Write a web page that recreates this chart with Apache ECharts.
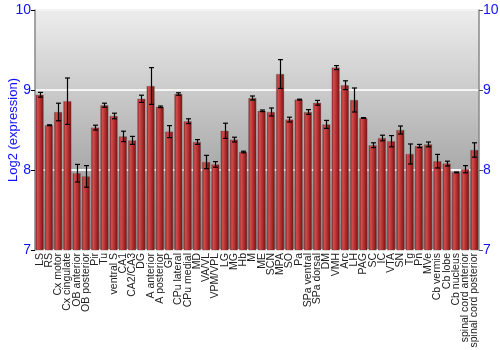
<!DOCTYPE html>
<html><head><meta charset="utf-8">
<script src="https://cdn.jsdelivr.net/npm/echarts@6/dist/echarts.min.js"></script>
<style>html,body{margin:0;padding:0;background:#fff}#c{width:500px;height:350px}</style>
</head><body><div id="c"></div>
<script>
const categories = ["LS","RS","Cx motor","Cx cingulate","OB anterior","OB posterior","Pir","Tu","ventral S","CA1","CA2/CA3","DG","A anterior","A posterior","GP","CPu lateral","CPu medial","MD","VA/VL","VPM/VPL","LG","MG","Hb","M","ME","SCN","MPA","SO","Pa","SPa ventral","SPa dorsal","DM","VMH","Arc","LH","PAG","SC","IC","VTA","SN","Tg","Pn","MVe","Cb vermis","Cb lobe","Cb nucleus","spinal cord anterior","spinal cord posterior"];
const values = [8.94,8.56,8.725,8.86,7.96,7.92,8.53,8.81,8.675,8.42,8.37,8.89,9.05,8.79,8.48,8.95,8.61,8.35,8.10,8.07,8.49,8.38,8.225,8.90,8.74,8.725,9.20,8.63,8.88,8.725,8.84,8.57,9.28,9.06,8.875,8.65,8.31,8.40,8.36,8.50,8.20,8.30,8.32,8.11,8.08,7.97,8.01,8.25];
const errors = [0.03,0.005,0.11,0.29,0.11,0.135,0.03,0.025,0.035,0.065,0.05,0.045,0.23,0.01,0.075,0.015,0.03,0.03,0.083,0.035,0.095,0.03,0.01,0.025,0.01,0.05,0.18,0.03,0.005,0.03,0.03,0.05,0.025,0.055,0.15,0.005,0.03,0.035,0.07,0.05,0.125,0.02,0.03,0.085,0.03,0.005,0.045,0.09];
const yTicks = [7,8,9,10];

const chart = echarts.init(document.getElementById('c'));
const barColor = new echarts.graphic.LinearGradient(0,0,1,0,[
  {offset:0,color:'#8a1c1c'},{offset:0.25,color:'#cf4e4e'},{offset:0.6,color:'#b22e2e'},{offset:1,color:'#6e1010'}]);
const yAxisCommon = {
  type:'value', min:yTicks[0], max:yTicks[yTicks.length-1], interval:1,
  axisLine:{show:true,lineStyle:{color:'#888',width:1.5}},
  axisTick:{show:true,length:4,lineStyle:{color:'#000'}},
  axisLabel:{color:'#1010ff',fontSize:14,fontFamily:'Liberation Sans, Arial, sans-serif',margin:4}
};
chart.setOption({
  animation:false,
  grid:{left:35,right:21,top:10,bottom:100,show:true,borderWidth:0,containLabel:false,outerBoundsMode:'none',
    backgroundColor:new echarts.graphic.LinearGradient(0,0,0,1,[{offset:0,color:'#ededed'},{offset:1,color:'#878787'}])},
  xAxis:{type:'category',data:categories,
    axisLine:{show:false},axisTick:{show:false},
    axisLabel:{rotate:90,interval:0,fontSize:10.5,color:'#222',margin:3,fontFamily:'Liberation Sans, Arial, sans-serif'}},
  yAxis:[
    Object.assign({},yAxisCommon,{position:'left',name:'Log2 (expression)',nameLocation:'middle',nameGap:15,nameMoveOverlap:false,
      nameTextStyle:{color:'#1010ff',fontSize:13,fontFamily:'Liberation Sans, Arial, sans-serif'},
      splitLine:{show:true,lineStyle:{color:'#f4f4f4',width:2}}}),
    Object.assign({},yAxisCommon,{position:'right',splitLine:{show:false},axisTick:{show:true,inside:false,length:4,lineStyle:{color:'#555'}}})
  ],
  series:[
    {type:'bar',data:values,barWidth:'86%',itemStyle:{color:barColor,borderColor:'rgba(90,90,90,0.6)',borderWidth:0.5},z:2},
    {type:'custom',z:5,data:values.map((v,i)=>[i,v-errors[i],v+errors[i]]),
      renderItem:function(params,api){
        const lo=api.coord([api.value(0),api.value(1)]);
        const hi=api.coord([api.value(0),api.value(2)]);
        const x=Math.round(lo[0])+0.5, w=2.5;
        const st={stroke:'#000',lineWidth:1.2};
        return {type:'group',children:[
          {type:'line',shape:{x1:x,y1:hi[1],x2:x,y2:lo[1]},style:st},
          {type:'line',shape:{x1:x-w,y1:hi[1],x2:x+w,y2:hi[1]},style:st},
          {type:'line',shape:{x1:x-w,y1:lo[1],x2:x+w,y2:lo[1]},style:st}
        ]};
      }}
  ]
});
</script></body></html>
